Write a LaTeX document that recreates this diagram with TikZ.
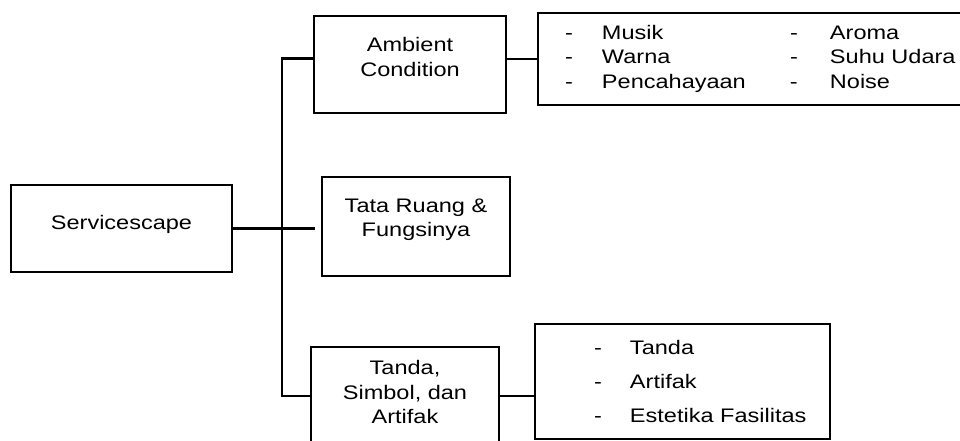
\documentclass[tikz,border=0pt]{standalone}
\usepackage{fontspec}
\setmainfont{Liberation Sans}[FakeStretch=1.2]
\usepackage{tikz}
\usetikzlibrary{positioning}

\begin{document}
\begin{tikzpicture}[x=0.5pt, y=-0.5pt,
  font=\fontsize{9.8}{12.2}\selectfont,
  box/.style={draw, line width=1pt, align=center, inner sep=0pt},
  listbox/.style={draw, line width=1pt, inner sep=0pt},
  link/.style={line width=1.3pt}]
\useasboundingbox (0,0) rectangle (960,440);

\node[box, minimum width=110.5pt, minimum height=43.5pt, text depth=6.3pt]
  (serv) at (121.5,228.5) {Servicescape};
\node[box, minimum width=96pt, minimum height=48.5pt, text depth=7.5pt]
  (amb) at (410,64.5) {Ambient\\Condition};
\node[box, minimum width=94pt, minimum height=49.5pt, text depth=8.8pt]
  (tata) at (416,226.5) {Tata Ruang \&\\Fungsinya};
\node[box, minimum width=94pt, minimum height=49pt, text depth=4pt]
  (tanda) at (405,396) {Tanda,\\Simbol, dan\\Artifak};

\node[listbox, minimum height=46pt, right=15pt of amb, yshift=2.75pt] (amblist)
  {\begin{tabular}{@{\hspace{13.5pt}}p{18.5pt}@{}p{94pt}@{}p{20pt}@{}p{70pt}@{}}
   - & Musik & - & Aroma\\
   - & Warna & - & Suhu Udara\\
   - & Pencahayaan & - & Noise
   \end{tabular}};
\node[listbox, minimum height=57.5pt, right=17pt of tanda, yshift=7.25pt] (tandalist)
  {\renewcommand{\arraystretch}{1.39}%
   \begin{tabular}{@{\hspace{29.5pt}}p{18pt}@{}p{100pt}@{}}
   - & Tanda\\
   - & Artifak\\
   - & Estetika Fasilitas
   \end{tabular}};

\coordinate (spine) at (282,228.5);
\draw[link, shorten >=3pt] (serv.east) -- (serv.east -| tata.west);
\draw[link] ([yshift=3pt]amb.west) -| (spine) |- (tanda.west);
\draw[link] (amb.east |- amblist.west) -- (amblist.west);
\draw[link] (tanda.east) -- (tanda.east -| tandalist.west);
\end{tikzpicture}
\end{document}
